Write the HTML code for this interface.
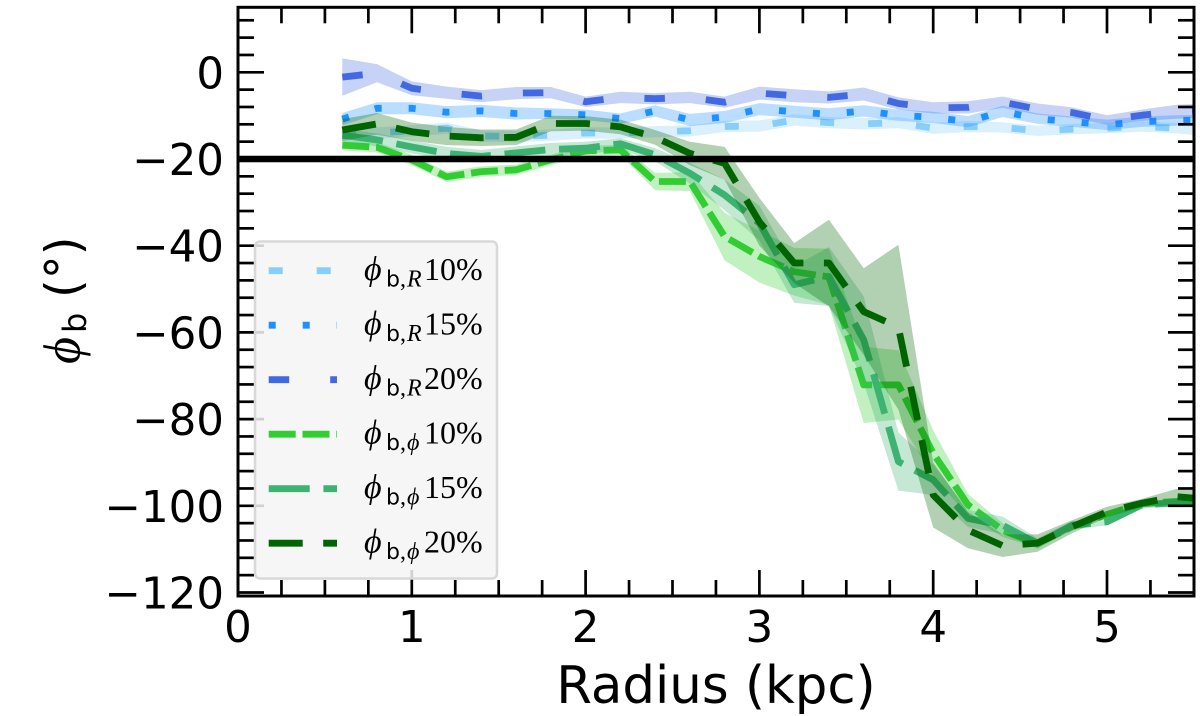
<!DOCTYPE html>
<html>
<head>
<meta charset="utf-8">
<title>Bar angle vs radius</title>
<style>
html,body{margin:0;padding:0;background:#fff;width:1200px;height:716px;overflow:hidden}
svg{display:block}
</style>
</head>
<body>
<svg id="chart" xmlns="http://www.w3.org/2000/svg" width="1200" height="716" viewBox="0 0 1200 716">
<defs><clipPath id="plot-clip"><rect x="238" y="7.3" width="956" height="588.7"/></clipPath></defs>
<g id="marks" clip-path="url(#plot-clip)"></g>
<g id="ticks"></g>
<rect x="238" y="7.3" width="956" height="588.7" fill="none" stroke="#000" stroke-width="3"/>
<g id="tick-labels" font-family="'DejaVu Sans',sans-serif" font-size="43.5" fill="#000"></g>
<text x="716" y="703" text-anchor="middle" font-family="'DejaVu Sans',sans-serif" font-size="51.4" fill="#000">Radius (kpc)</text>
<text transform="translate(79.5,364) rotate(-90)" font-family="'DejaVu Sans',sans-serif" font-size="48" fill="#000"><tspan x="0" font-family="'Liberation Serif',serif" font-style="italic" font-size="52">ϕ</tspan><tspan x="31" font-size="32" dy="6.5">b</tspan><tspan x="66" dy="-6.5">(°)</tspan></text>
<g id="legend">
<rect x="255" y="241.5" width="242" height="337" rx="5" ry="5" fill="rgb(245,245,245)" fill-opacity="0.85" stroke="#d8d8d8" stroke-width="2.5"/>
</g>
</svg>
<script>
// Data
const radius = [0.6,0.8,1.0,1.2,1.4,1.6,1.8,2.0,2.2,2.4,2.6,2.8,3.0,3.2,3.4,3.6,3.8,4.0,4.2,4.4,4.6,4.8,5.0,5.2,5.4,5.6];
const phiR10 = [-14.5,-14,-13.5,-12.9,-14.7,-14.8,-14.5,-14,-14,-13.7,-13.5,-12.5,-12.4,-11,-11.6,-11.9,-11.6,-12.9,-12.5,-12.7,-13.5,-13.1,-12.9,-12.5,-12.9,-13.7];
const errR10 = [1.3,1.3,1.3,1.3,1.3,1.3,1.3,1.3,1.3,1.3,1.3,1.3,1.3,1.3,1.3,1.3,1.3,1.3,1.3,1.2,1.2,1.2,1.2,1.2,1.2,1.2];
const phiR15 = [-10.8,-8.3,-8.3,-9.2,-8.9,-9.5,-9.5,-9.8,-10.7,-8.9,-11,-10.3,-8.5,-9.1,-9.7,-8.9,-9.9,-10.4,-11.4,-9,-10.7,-11.4,-12.1,-11.4,-11.1,-11];
const errR15 = [1.4,1.4,1.4,1.4,1.4,1.4,1.2,1.2,1.2,1.3,1.4,1.4,1.4,1.4,1.4,1.3,1.3,1.3,1.3,1.3,1.2,1.2,1.2,1.2,1.2,1.2];
const phiR20 = [-1.1,-0.2,-3.7,-4.7,-5.5,-4.8,-4.7,-6.8,-5.8,-6.1,-5.8,-6.9,-4.8,-5.4,-5.8,-5,-7.2,-8.2,-8.1,-6.9,-8.5,-9.3,-11,-9.9,-9.1,-8.7];
const errR20 = [4.3,2.1,1.6,1.4,1.4,1.4,1.3,1.2,1.3,1.3,1.3,1.3,1.5,1.5,1.4,1.5,1.4,1.3,1.4,1.3,1.3,1.2,1.1,1.3,1.6,1.6];
const phiG10 = [-16.8,-17.3,-20.2,-24.1,-22.9,-22.5,-20.2,-18.1,-17.9,-25.2,-25.2,-37.9,-42.5,-46,-47.2,-72.1,-72.1,-87.9,-99.8,-105.6,-108.7,-104.8,-102,-99.5,-99,-99.5];
const errG10 = [1.2,1.2,1.2,1.2,1.2,1.2,1.2,1.2,1.2,2,2.2,5.5,6,5.5,6.5,8.8,8,5.3,2.5,1.6,1,0.8,0.6,0.6,0.6,0.6];
const phiG15 = [-14.5,-15.6,-17.2,-18.7,-19.4,-18.6,-17.8,-17.5,-16.5,-19,-23.3,-28.3,-34.8,-49,-47.1,-61.7,-89.8,-94,-102.9,-104.5,-108.7,-104.5,-103.7,-99.8,-99.3,-99.5];
const errG15 = [1.5,1.5,1.5,1.5,1.5,1.5,1.5,1.5,1.3,1.5,2.4,3.5,4,4.2,6.8,10,6.7,3.5,2,2,1.2,1,0.8,0.8,0.8,0.8];
const phiG20 = [-13.3,-11.9,-13.7,-14.7,-15.1,-15,-11.8,-11.8,-12.6,-15,-18.7,-21,-34.5,-44,-44,-55.2,-58.8,-97.5,-105.6,-109.2,-108.6,-104.8,-101.4,-99.4,-97.9,-98.6];
const errG20 = [2.5,2.5,2.1,2.1,1.9,1.8,1.8,1.7,1.7,1.7,2.7,3.8,5.5,4.6,10,10,19,7.5,4.2,2.6,2,1.5,1.2,1,1.8,2];
const xMajorTicks = [0,1,2,3,4,5];
const xMinorTicks = [0.25,0.5,0.75,1.25,1.5,1.75,2.25,2.5,2.75,3.25,3.5,3.75,4.25,4.5,4.75,5.25];
const yMajorTicks = [0,-20,-40,-60,-80,-100,-120];
const yMinorTicks = [12,8,4,-4,-8,-12,-16,-24,-28,-32,-36,-44,-48,-52,-56,-64,-68,-72,-76,-84,-88,-92,-96,-104,-108,-112,-116];
const referenceAngle = [-20];

// Axis functions
const xPos = r => 238 + r * 173.8;
const yPos = v => 72.3 - v * 4.335;
const NS = 'http://www.w3.org/2000/svg';
const seriesList = [
  {key:'r-10',  vals:phiR10, errs:errR10, color:'#87CEFA', dash:'14 34',     sub:'R', pct:'10%'},
  {key:'r-15',  vals:phiR15, errs:errR15, color:'#1E90FF', dash:'7 27',      sub:'R', pct:'15%'},
  {key:'r-20',  vals:phiR20, errs:errR20, color:'#4169E1', dash:'20.5 41',   sub:'R', pct:'20%'},
  {key:'phi-10',vals:phiG10, errs:errG10, color:'#32CD32', dash:'27 6.8',    sub:'ϕ', pct:'10%'},
  {key:'phi-15',vals:phiG15, errs:errG15, color:'#3CB371', dash:'41 13.7',   sub:'ϕ', pct:'15%'},
  {key:'phi-20',vals:phiG20, errs:errG20, color:'#006400', dash:'34 20.5',   sub:'ϕ', pct:'20%'}
];
const marks = document.getElementById('marks');
seriesList.forEach(s => {
  const upper = radius.map((r,i) => xPos(r).toFixed(1)+','+yPos(s.vals[i]+s.errs[i]).toFixed(1));
  const lower = radius.map((r,i) => xPos(r).toFixed(1)+','+yPos(s.vals[i]-s.errs[i]).toFixed(1)).reverse();
  const band = document.createElementNS(NS,'polygon');
  band.setAttribute('points', upper.concat(lower).join(' '));
  band.setAttribute('fill', s.color);
  band.setAttribute('fill-opacity', '0.3');
  
  
  marks.appendChild(band);
  const line = document.createElementNS(NS,'polyline');
  line.setAttribute('points', radius.map((r,i) => xPos(r).toFixed(1)+','+yPos(s.vals[i]).toFixed(1)).join(' '));
  line.setAttribute('fill', 'none');
  line.setAttribute('stroke', s.color);
  line.setAttribute('stroke-width', '6.8');
  line.setAttribute('stroke-dasharray', s.dash);
  line.setAttribute('stroke-linejoin', 'round');
  
  
  marks.appendChild(line);
});
const refLine = document.createElementNS(NS,'line');
refLine.setAttribute('x1', xPos(0));
refLine.setAttribute('x2', xPos(5.5));
refLine.setAttribute('y1', yPos(referenceAngle[0]));
refLine.setAttribute('y2', yPos(referenceAngle[0]));
refLine.setAttribute('stroke', '#000');
refLine.setAttribute('stroke-width', '6.5');


marks.appendChild(refLine);

// Ticks
const ticks = document.getElementById('ticks');
function addTick(x1,y1,x2,y2){
  const t = document.createElementNS(NS,'line');
  t.setAttribute('x1',x1);
  t.setAttribute('y1',y1);
  t.setAttribute('x2',x2);
  t.setAttribute('y2',y2);
  t.setAttribute('stroke','#000');
  t.setAttribute('stroke-width','2.7');
  
  
  ticks.appendChild(t);
}
const majorLen = 26, minorLen = 16, top0 = 7.3, bot0 = 596, left0 = 238, right0 = 1194;
xMajorTicks.forEach(v => { addTick(xPos(v),bot0,xPos(v),bot0-majorLen); addTick(xPos(v),top0,xPos(v),top0+majorLen); });
xMinorTicks.forEach(v => { addTick(xPos(v),bot0,xPos(v),bot0-minorLen); addTick(xPos(v),top0,xPos(v),top0+minorLen); });
yMajorTicks.forEach(v => { addTick(left0,yPos(v),left0+majorLen,yPos(v)); addTick(right0,yPos(v),right0-majorLen,yPos(v)); });
yMinorTicks.forEach(v => { addTick(left0,yPos(v),left0+minorLen,yPos(v)); addTick(right0,yPos(v),right0-minorLen,yPos(v)); });

// Tick labels
const tl = document.getElementById('tick-labels');
xMajorTicks.forEach(v => {
  const t = document.createElementNS(NS,'text');
  t.setAttribute('x', xPos(v));
  t.setAttribute('y', 642);
  t.setAttribute('text-anchor','middle');
  
  
  t.textContent = String(v);
  tl.appendChild(t);
});
yMajorTicks.forEach(v => {
  const t = document.createElementNS(NS,'text');
  t.setAttribute('x', 224);
  t.setAttribute('y', yPos(v)+16);
  t.setAttribute('text-anchor','end');
  
  
  t.textContent = (v<0 ? '\u2212' : '') + Math.abs(v);
  tl.appendChild(t);
});

// Legend
const legend = document.getElementById('legend');
seriesList.forEach((s,i) => {
  const y = 270.7 + i*54.5;
  const g = document.createElementNS(NS,'g');
  
  
  const h = document.createElementNS(NS,'line');
  h.setAttribute('x1',268.7);
  h.setAttribute('x2',337);
  h.setAttribute('y1',y);
  h.setAttribute('y2',y);
  h.setAttribute('stroke',s.color);
  h.setAttribute('stroke-width','6.8');
  h.setAttribute('stroke-dasharray',s.dash);
  
  
  g.appendChild(h);
  const t = document.createElementNS(NS,'text');
  t.setAttribute('y', y+9.5);
  t.setAttribute('font-family',"'Liberation Serif',serif");
  t.setAttribute('font-size','32');
  t.setAttribute('fill','#000');
  
  
  const parts = [
    {txt:'ϕ', x:364, dy:0, size:34, style:'italic'},
    {txt:'b', x:386, dy:6.5, size:22, style:'normal', fam:"'DejaVu Sans',sans-serif"},
    {txt:',', x:400, dy:0, size:24, style:'normal'},
    {txt:s.sub, x:407, dy:0, size:24, style:'italic'},
    {txt:s.pct, x:424, dy:-6.5, size:32, style:'normal'}
  ];
  parts.forEach(p => {
    const sp = document.createElementNS(NS,'tspan');
    sp.setAttribute('x',p.x);
    sp.setAttribute('dy',p.dy);
    sp.setAttribute('font-size',p.size);
    sp.setAttribute('font-style',p.style);
    if(p.fam) sp.setAttribute('font-family',p.fam);
    sp.textContent = p.txt;
    t.appendChild(sp);
  });
  g.appendChild(t);
  legend.appendChild(g);
});
</script>
</body>
</html>
